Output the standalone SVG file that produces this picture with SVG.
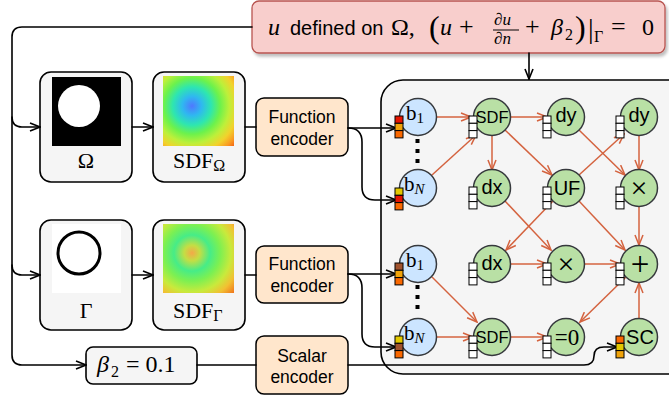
<svg xmlns="http://www.w3.org/2000/svg" width="669" height="401" viewBox="0 0 669 401">
<defs>
<style>
.box{fill:#f5f5f5;stroke:#000;stroke-width:1.6}
.enc{fill:#ffe6cc;stroke:#000;stroke-width:1.5}
.blk{stroke:#000;stroke-width:1.6;fill:none;stroke-linecap:round;stroke-linejoin:round}
.org{stroke:#d4633f;stroke-width:1.5;fill:none}
.bn{fill:#cce5ff;stroke:#36393d;stroke-width:1.5}
.gn{fill:#b9e0a5;stroke:#36393d;stroke-width:1.5}
.sq{stroke:#000;stroke-width:1}
.wsq{fill:#fff;stroke:#000;stroke-width:1}
.sans{font-family:"Liberation Sans",Arial,sans-serif;fill:#000}
.serif{font-family:"Liberation Serif","Times New Roman",serif;fill:#000}
.it{font-style:italic}
</style>
<marker id="ab" markerWidth="12" markerHeight="10" refX="11" refY="5" orient="auto" markerUnits="userSpaceOnUse">
<path d="M1,1 L11,5 L1,9" fill="none" stroke="#000" stroke-width="1.6"/>
</marker>
<marker id="ao" markerWidth="12" markerHeight="10" refX="11" refY="5" orient="auto" markerUnits="userSpaceOnUse">
<path d="M1,1 L11,5 L1,9" fill="none" stroke="#d4633f" stroke-width="1.5"/>
</marker>
<radialGradient id="gO" gradientUnits="userSpaceOnUse" cx="192" cy="106" r="60">
<stop offset="0" stop-color="#4f78ff"/>
<stop offset="0.16" stop-color="#2fb8f0"/>
<stop offset="0.32" stop-color="#2ee6b0"/>
<stop offset="0.47" stop-color="#6cf24c"/>
<stop offset="0.62" stop-color="#bdf03a"/>
<stop offset="0.76" stop-color="#f2d22c"/>
<stop offset="0.88" stop-color="#fa9a22"/>
<stop offset="1" stop-color="#f05010"/>
</radialGradient>
<radialGradient id="gG" gradientUnits="userSpaceOnUse" cx="192" cy="253" r="60">
<stop offset="0" stop-color="#f4a848"/>
<stop offset="0.13" stop-color="#c4de44"/>
<stop offset="0.3" stop-color="#46ec88"/>
<stop offset="0.47" stop-color="#7cf052"/>
<stop offset="0.65" stop-color="#c8ea3c"/>
<stop offset="0.8" stop-color="#f2c032"/>
<stop offset="1" stop-color="#f06418"/>
</radialGradient>
<filter id="sh" x="-5%" y="-20%" width="115%" height="150%">
<feDropShadow dx="2" dy="3" stdDeviation="1.5" flood-color="#000" flood-opacity="0.25"/>
</filter>
</defs>
<rect width="669" height="401" fill="#fff"/>

<g id="graph">
<rect x="381" y="80" width="310" height="294" rx="22" fill="#f5f5f5" stroke="#000" stroke-width="1.6"/>
</g>

<g id="label">
<rect x="252" y="1" width="413" height="52" rx="7" fill="#f8cecc" stroke="#b85450" stroke-width="1.3" filter="url(#sh)"/>
<text class="serif it" x="268" y="35" font-size="24">u</text>
<text class="sans" x="290" y="35" font-size="20">defined on</text>
<text class="serif" x="391" y="35" font-size="24">Ω,</text>
<text class="serif" x="429" y="38" font-size="32">(</text>
<text class="serif it" x="440" y="35" font-size="24">u</text>
<text class="serif" x="459" y="35" font-size="26">+</text>
<text class="serif it" x="494" y="25" font-size="17">∂u</text>
<line x1="493" y1="30" x2="519" y2="30" stroke="#000" stroke-width="1"/>
<text class="serif it" x="494" y="44" font-size="17">∂n</text>
<text class="serif" x="525" y="35" font-size="26">+</text>
<text class="serif it" x="551" y="35" font-size="24">β</text>
<text class="serif" x="565" y="40" font-size="16">2</text>
<text class="serif" x="575" y="38" font-size="32">)</text>
<text class="serif" x="588" y="38" font-size="28">|</text>
<text class="serif" x="594" y="42" font-size="16">Γ</text>
<text class="serif" x="611" y="35" font-size="26">=</text>
<text class="serif" x="642" y="35" font-size="24">0</text>
</g>

<g id="omega">
<rect class="box" x="40" y="72" width="92" height="110" rx="11"/>
<rect x="52" y="77" width="69" height="69" fill="#000"/>
<circle cx="79" cy="106" r="21" fill="#fff"/>
<text class="serif" x="86" y="168" font-size="22" text-anchor="middle">Ω</text>
</g>
<g id="sdf-omega">
<rect class="box" x="153" y="72" width="92" height="110" rx="11"/>
<rect x="163" y="76" width="71" height="70" fill="url(#gO)"/>
<text class="serif" x="173" y="168" font-size="22">SDF<tspan font-size="16" dy="3">Ω</tspan></text>
</g>
<g id="gamma">
<rect class="box" x="40" y="220" width="92" height="110" rx="11"/>
<rect x="52" y="224" width="69" height="69" fill="#fff"/>
<circle cx="79" cy="253" r="21" fill="none" stroke="#000" stroke-width="3"/>
<text class="serif" x="86" y="318" font-size="22" text-anchor="middle">Γ</text>
</g>
<g id="sdf-gamma">
<rect class="box" x="153" y="220" width="92" height="110" rx="11"/>
<rect x="163" y="224" width="71" height="69" fill="url(#gG)"/>
<text class="serif" x="173" y="318" font-size="22">SDF<tspan font-size="16" dy="3">Γ</tspan></text>
</g>
<g id="beta">
<rect class="box" x="86" y="347" width="111" height="37" rx="7"/>
<text class="serif it" x="97" y="372" font-size="24">β</text>
<text class="serif" x="111" y="377" font-size="16">2</text>
<text class="serif" x="126" y="372" font-size="24">= 0.1</text>
</g>
<g id="enc1">
<rect class="enc" x="256" y="98" width="92" height="58" rx="8"/>
<text class="sans" x="302" y="123" font-size="17.5" text-anchor="middle">Function</text>
<text class="sans" x="302" y="145" font-size="17.5" text-anchor="middle">encoder</text>
</g>
<g id="enc2">
<rect class="enc" x="256" y="246" width="92" height="57" rx="8"/>
<text class="sans" x="302" y="270" font-size="17.5" text-anchor="middle">Function</text>
<text class="sans" x="302" y="292" font-size="17.5" text-anchor="middle">encoder</text>
</g>
<g id="enc3">
<rect class="enc" x="256" y="336" width="92" height="58" rx="8"/>
<text class="sans" x="302" y="362" font-size="17.5" text-anchor="middle">Scalar</text>
<text class="sans" x="302" y="383" font-size="17.5" text-anchor="middle">encoder</text>
</g>

<g id="connectors">
<path class="blk" d="M252,27 L22,27 Q12,27 12,37 L12,355 Q12,365 22,365 L86,365" marker-end="url(#ab)"/>
<path class="blk" d="M12,117 Q12,127 22,127 L40,127" marker-end="url(#ab)"/>
<path class="blk" d="M12,265 Q12,275 22,275 L40,275" marker-end="url(#ab)"/>
<path class="blk" d="M132,127 L153,127" marker-end="url(#ab)"/>
<path class="blk" d="M132,275 L153,275" marker-end="url(#ab)"/>
<path class="blk" d="M245,127 L256,127"/>
<path class="blk" d="M245,275 L256,275"/>
<path class="blk" d="M529,53 L529,79" marker-end="url(#ab)"/>
<path class="blk" d="M348,128 L396,128" marker-end="url(#ab)"/>
<path class="blk" d="M348,128 Q362,128 362,142 L362,187 Q362,200 375,200 L396,200" marker-end="url(#ab)"/>
<path class="blk" d="M348,274 L396,274" marker-end="url(#ab)"/>
<path class="blk" d="M348,274 Q362,274 362,288 L362,334 Q362,347 375,347 L396,347" marker-end="url(#ab)"/>
<path class="blk" d="M197,365 L256,365"/>
<path class="blk" d="M348,365 L584,365 Q594,365 594,356 Q594,347 604,347 L617,347" marker-end="url(#ab)"/>

<path class="org" d="M437,117 L471,117" marker-end="url(#ao)"/>
<path class="org" d="M432,175 L476,135" marker-end="url(#ao)"/>
<path class="org" d="M510,117 L547,117" marker-end="url(#ao)"/>
<path class="org" d="M492,136 L492,170" marker-end="url(#ao)"/>
<path class="org" d="M505,130 L552,175" marker-end="url(#ao)"/>
<path class="org" d="M579,130 L625,175" marker-end="url(#ao)"/>
<path class="org" d="M579,175 L624,134" marker-end="url(#ao)"/>
<path class="org" d="M639,136 L639,170" marker-end="url(#ao)"/>
<path class="org" d="M639,207 L639,245" marker-end="url(#ao)"/>
<path class="org" d="M579,201 L625,250" marker-end="url(#ao)"/>
<path class="org" d="M553,201 L506,250" marker-end="url(#ao)"/>
<path class="org" d="M505,201 L551,250" marker-end="url(#ao)"/>
<path class="org" d="M510,264 L547,264" marker-end="url(#ao)"/>
<path class="org" d="M584,264 L620,264" marker-end="url(#ao)"/>
<path class="org" d="M626,277 L580,322" marker-end="url(#ao)"/>
<path class="org" d="M639,318 L639,283" marker-end="url(#ao)"/>
<path class="org" d="M432,277 L477,322" marker-end="url(#ao)"/>
<path class="org" d="M437,337 L473,337" marker-end="url(#ao)"/>
<path class="org" d="M510,337 L547,337" marker-end="url(#ao)"/>
</g>

<g id="b1-top">
<circle class="bn" cx="418" cy="117" r="18.5"/>
<text class="serif" x="406" y="120" font-size="21">b<tspan font-size="15" dy="3">1</tspan></text>
<rect class="sq" x="395" y="116" width="8" height="7.3" fill="#e51400"/>
<rect class="sq" x="395" y="123.3" width="8" height="7.3" fill="#f0a30a"/>
<rect class="sq" x="395" y="130.6" width="8" height="7.3" fill="#fa6800"/>
</g>
<g id="dots-top">
<rect x="415.5" y="139" width="4" height="4" fill="#000"/>
<rect x="415.5" y="149" width="4" height="4" fill="#000"/>
<rect x="415.5" y="159" width="4" height="4" fill="#000"/>
</g>
<g id="bN-top">
<circle class="bn" cx="418" cy="188" r="18.5"/>
<text class="serif" x="404" y="191" font-size="21">b<tspan class="it" font-size="15" dy="3">N</tspan></text>
<rect class="sq" x="395" y="188" width="8" height="7.3" fill="#e3c800"/>
<rect class="sq" x="395" y="195.3" width="8" height="7.3" fill="#e51400"/>
<rect class="sq" x="395" y="202.6" width="8" height="7.3" fill="#fa6800"/>
</g>
<g id="b1-bot">
<circle class="bn" cx="418" cy="264" r="18.5"/>
<text class="serif" x="406" y="267" font-size="21">b<tspan font-size="15" dy="3">1</tspan></text>
<rect class="sq" x="395" y="263" width="8" height="7.3" fill="#a0522d"/>
<rect class="sq" x="395" y="270.3" width="8" height="7.3" fill="#f0a30a"/>
<rect class="sq" x="395" y="277.6" width="8" height="7.3" fill="#fa6800"/>
</g>
<g id="dots-bot">
<rect x="415.5" y="285" width="4" height="4" fill="#000"/>
<rect x="415.5" y="295" width="4" height="4" fill="#000"/>
<rect x="415.5" y="305" width="4" height="4" fill="#000"/>
</g>
<g id="bN-bot">
<circle class="bn" cx="418" cy="337" r="18.5"/>
<text class="serif" x="404" y="340" font-size="21">b<tspan class="it" font-size="15" dy="3">N</tspan></text>
<rect class="sq" x="395" y="336" width="8" height="7.3" fill="#e3c800"/>
<rect class="sq" x="395" y="343.3" width="8" height="7.3" fill="#a0522d"/>
<rect class="sq" x="395" y="350.6" width="8" height="7.3" fill="#fa6800"/>
</g>

<g id="sdf1">
<circle class="gn" cx="492" cy="117" r="18.5"/>
<text class="sans" x="492" y="123" font-size="16.5" text-anchor="middle">SDF</text>
<rect class="wsq" x="469" y="116" width="8" height="7.3"/><rect class="wsq" x="469" y="123.3" width="8" height="7.3"/><rect class="wsq" x="469" y="130.6" width="8" height="7.3"/>
</g>
<g id="dy1">
<circle class="gn" cx="566" cy="117" r="18.5"/>
<text class="sans" x="566" y="122" font-size="20" text-anchor="middle">dy</text>
<rect class="wsq" x="543" y="116" width="8" height="7.3"/><rect class="wsq" x="543" y="123.3" width="8" height="7.3"/><rect class="wsq" x="543" y="130.6" width="8" height="7.3"/>
</g>
<g id="dy2">
<circle class="gn" cx="639" cy="117" r="18.5"/>
<text class="sans" x="639" y="122" font-size="20" text-anchor="middle">dy</text>
<rect class="wsq" x="616" y="116" width="8" height="7.3"/><rect class="wsq" x="616" y="123.3" width="8" height="7.3"/><rect class="wsq" x="616" y="130.6" width="8" height="7.3"/>
</g>
<g id="dx1">
<circle class="gn" cx="492" cy="188" r="18.5"/>
<text class="sans" x="492" y="194" font-size="20" text-anchor="middle">dx</text>
<rect class="wsq" x="469" y="187" width="8" height="7.3"/><rect class="wsq" x="469" y="194.3" width="8" height="7.3"/><rect class="wsq" x="469" y="201.6" width="8" height="7.3"/>
</g>
<g id="uf">
<circle class="gn" cx="566" cy="188" r="18.5"/>
<text class="sans" x="567" y="195" font-size="20" text-anchor="middle">UF</text>
<rect class="wsq" x="543" y="187" width="8" height="7.3"/><rect class="wsq" x="543" y="194.3" width="8" height="7.3"/><rect class="wsq" x="543" y="201.6" width="8" height="7.3"/>
</g>
<g id="mul1">
<circle class="gn" cx="639" cy="188" r="18.5"/>
<text class="serif" x="639" y="198" font-size="30" text-anchor="middle">×</text>
<rect class="wsq" x="616" y="187" width="8" height="7.3"/><rect class="wsq" x="616" y="194.3" width="8" height="7.3"/><rect class="wsq" x="616" y="201.6" width="8" height="7.3"/>
</g>
<g id="dx2">
<circle class="gn" cx="492" cy="264" r="18.5"/>
<text class="sans" x="492" y="270" font-size="20" text-anchor="middle">dx</text>
<rect class="wsq" x="469" y="263" width="8" height="7.3"/><rect class="wsq" x="469" y="270.3" width="8" height="7.3"/><rect class="wsq" x="469" y="277.6" width="8" height="7.3"/>
</g>
<g id="mul2">
<circle class="gn" cx="566" cy="264" r="18.5"/>
<text class="serif" x="566" y="274" font-size="30" text-anchor="middle">×</text>
<rect class="wsq" x="543" y="263" width="8" height="7.3"/><rect class="wsq" x="543" y="270.3" width="8" height="7.3"/><rect class="wsq" x="543" y="277.6" width="8" height="7.3"/>
</g>
<g id="plus">
<circle class="gn" cx="639" cy="264" r="18.5"/>
<text class="serif" x="640" y="275" font-size="33" text-anchor="middle">+</text>
<rect class="wsq" x="616" y="263" width="8" height="7.3"/><rect class="wsq" x="616" y="270.3" width="8" height="7.3"/><rect class="wsq" x="616" y="277.6" width="8" height="7.3"/>
</g>
<g id="sdf2">
<circle class="gn" cx="492" cy="337" r="18.5"/>
<text class="sans" x="492" y="343" font-size="16.5" text-anchor="middle">SDF</text>
<rect class="wsq" x="469" y="336" width="8" height="7.3"/><rect class="wsq" x="469" y="343.3" width="8" height="7.3"/><rect class="wsq" x="469" y="350.6" width="8" height="7.3"/>
</g>
<g id="eq0">
<circle class="gn" cx="566" cy="337" r="18.5"/>
<text class="serif" x="567" y="345" font-size="23" text-anchor="middle">=0</text>
<rect class="wsq" x="543" y="336" width="8" height="7.3"/><rect class="wsq" x="543" y="343.3" width="8" height="7.3"/><rect class="wsq" x="543" y="350.6" width="8" height="7.3"/>
</g>
<g id="sc">
<circle class="gn" cx="639" cy="337" r="18.5"/>
<text class="sans" x="640" y="344" font-size="20" text-anchor="middle">SC</text>
<rect class="sq" x="616" y="336" width="8" height="7.3" fill="#fa6800"/>
<rect class="sq" x="616" y="343.3" width="8" height="7.3" fill="#e3c800"/>
<rect class="sq" x="616" y="350.6" width="8" height="7.3" fill="#f0a30a"/>
</g>
</svg>
